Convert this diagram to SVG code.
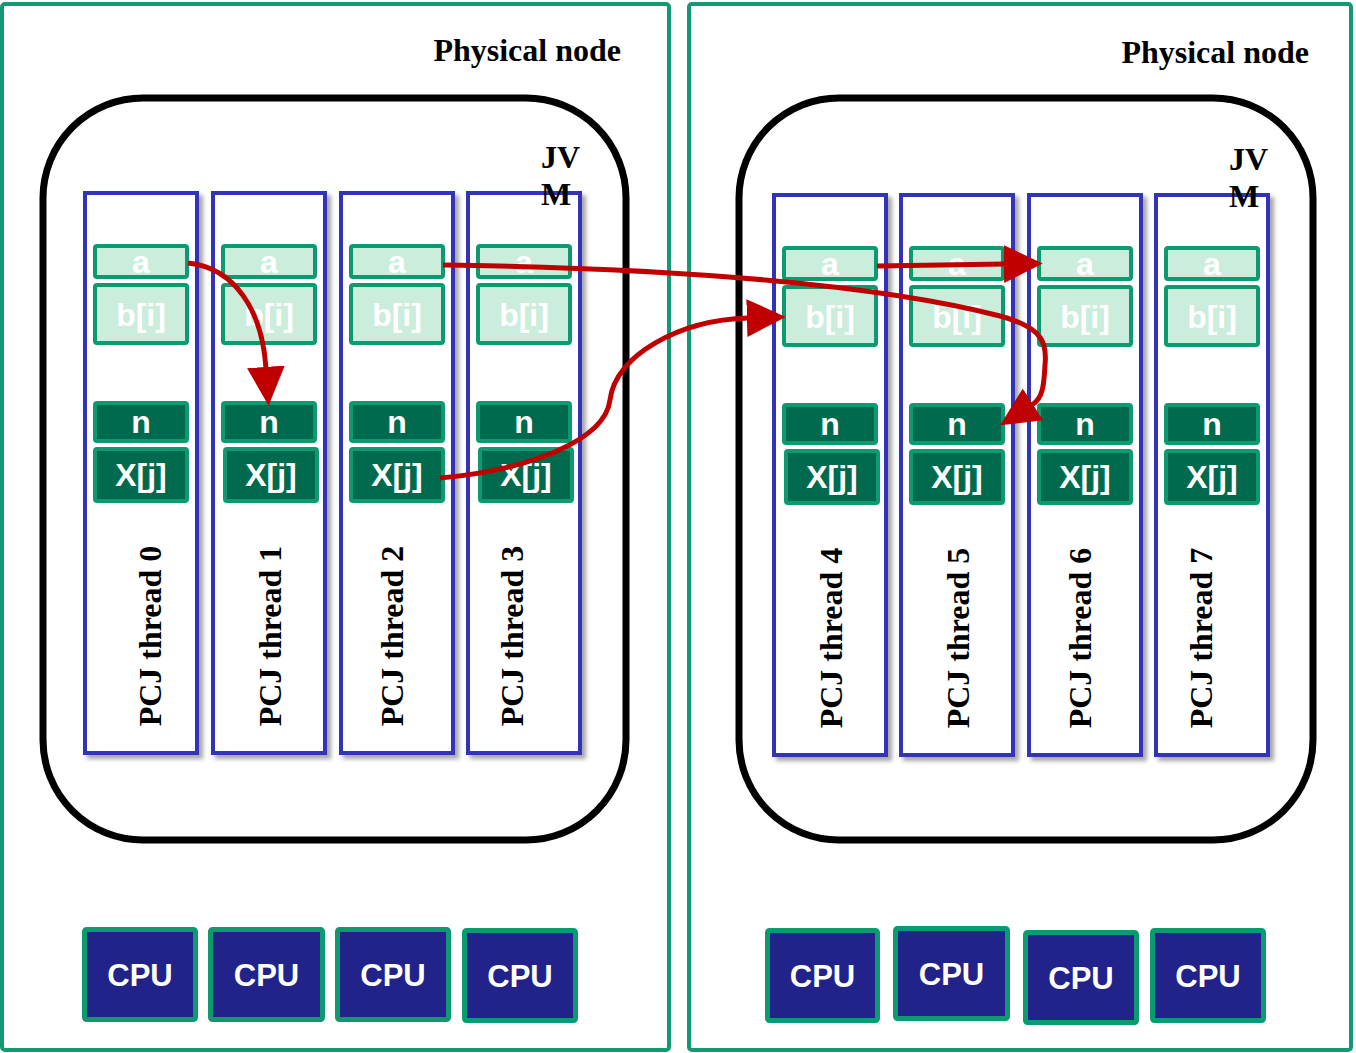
<svg xmlns="http://www.w3.org/2000/svg" width="1356" height="1053" viewBox="0 0 1356 1053">
  <defs>
    <filter id="colShadow" x="-10%" y="-5%" width="125%" height="115%">
      <feDropShadow dx="4" dy="4" stdDeviation="2" flood-color="#000" flood-opacity="0.35"/>
    </filter>
    <marker id="arrowHead" markerUnits="userSpaceOnUse" markerWidth="40" markerHeight="40" viewBox="0 0 36 34" refX="1" refY="17" orient="auto">
      <path d="M0,0 L35,17 L0,34 z" fill="#c00000"/>
    </marker>
    <style>
      .phys { fill: #fff; stroke: #129a74; stroke-width: 4; }
      .jvm { fill: none; stroke: #000; stroke-width: 7; }
      .col { fill: #fff; stroke: #3333bb; stroke-width: 4; filter: url(#colShadow); }
      .lite { fill: #cbeddc; stroke: #0e9a70; stroke-width: 4; }
      .dark { fill: #006a4e; stroke: #0e9a70; stroke-width: 4; }
      .cpu { fill: #22228b; stroke: #0e9a70; stroke-width: 5; }
      .var { font-family: "Liberation Sans", Arial, sans-serif; font-weight: bold; font-size: 32px; fill: #fff; text-anchor: middle; }
      .cpuTxt { font-family: "Liberation Sans", Arial, sans-serif; font-weight: bold; font-size: 31px; fill: #fff; text-anchor: middle; }
      .serif { font-family: "Liberation Serif", "Times New Roman", serif; font-weight: bold; font-size: 32px; fill: #000; }
      .thr { text-anchor: middle; }
      .link { fill: none; stroke: #c00000; stroke-width: 5; }
    </style>
  </defs>

  <rect width="1356" height="1053" fill="#fff"/>

  <!-- physical nodes -->
  <g id="node-phys-left">
    <rect class="phys" x="2" y="4" width="667" height="1046" rx="3"/>
    <text class="serif" x="621" y="61" text-anchor="end">Physical node</text>
  </g>
  <g id="node-phys-right">
    <rect class="phys" x="689" y="4" width="662" height="1046" rx="3"/>
    <text class="serif" x="1309" y="63" text-anchor="end">Physical node</text>
  </g>

  <!-- JVMs -->
  <g id="node-jvm-left">
    <rect class="jvm" x="43" y="98" width="583" height="742" rx="100"/>
  </g>
  <g id="node-jvm-right">
    <rect class="jvm" x="739" y="98" width="574" height="742" rx="100"/>
  </g>

  <!-- PCJ threads, left JVM -->
  <g id="node-thread0">
    <rect class="col" x="85" y="193" width="112" height="560"/>
    <text class="serif thr" transform="translate(161,636) rotate(-90)">PCJ thread 0</text>
  </g>
  <g id="node-thread1">
    <rect class="col" x="213" y="193" width="112" height="560"/>
    <text class="serif thr" transform="translate(281,636) rotate(-90)">PCJ thread 1</text>
  </g>
  <g id="node-thread2">
    <rect class="col" x="341" y="193" width="112" height="560"/>
    <text class="serif thr" transform="translate(403,636) rotate(-90)">PCJ thread 2</text>
  </g>
  <g id="node-thread3">
    <rect class="col" x="468" y="193" width="112" height="560"/>
    <text class="serif thr" transform="translate(523,636) rotate(-90)">PCJ thread 3</text>
  </g>

  <!-- PCJ threads, right JVM -->
  <g id="node-thread4">
    <rect class="col" x="774" y="195" width="112" height="560"/>
    <text class="serif thr" transform="translate(842,638) rotate(-90)">PCJ thread 4</text>
  </g>
  <g id="node-thread5">
    <rect class="col" x="901" y="195" width="112" height="560"/>
    <text class="serif thr" transform="translate(969,638) rotate(-90)">PCJ thread 5</text>
  </g>
  <g id="node-thread6">
    <rect class="col" x="1029" y="195" width="112" height="560"/>
    <text class="serif thr" transform="translate(1091,638) rotate(-90)">PCJ thread 6</text>
  </g>
  <g id="node-thread7">
    <rect class="col" x="1156" y="195" width="112" height="560"/>
    <text class="serif thr" transform="translate(1212,638) rotate(-90)">PCJ thread 7</text>
  </g>

  <!-- JVM labels -->
  <g id="label-jvm-left">
    <text class="serif" x="541" y="168">JV</text>
    <text class="serif" x="541" y="205">M</text>
  </g>
  <g id="label-jvm-right">
    <text class="serif" x="1229" y="170">JV</text>
    <text class="serif" x="1229" y="207">M</text>
  </g>

  <!-- shared variables of each thread -->
  <g id="node-vars0">
    <rect class="lite" x="95" y="246" width="92" height="31" rx="2"/><text class="var" x="141" y="273">a</text>
    <rect class="lite" x="95" y="285" width="92" height="58" rx="2"/><text class="var" x="141" y="326">b[i]</text>
    <rect class="dark" x="95" y="403" width="92" height="38" rx="2"/><text class="var" x="141" y="433">n</text>
    <rect class="dark" x="95" y="449" width="92" height="52" rx="2"/><text class="var" x="141" y="486">X[j]</text>
  </g>
  <g id="node-vars1">
    <rect class="lite" x="223" y="246" width="92" height="31" rx="2"/><text class="var" x="269" y="273">a</text>
    <rect class="lite" x="223" y="285" width="92" height="58" rx="2"/><text class="var" x="269" y="326">b[i]</text>
    <rect class="dark" x="223" y="403" width="92" height="38" rx="2"/><text class="var" x="269" y="433">n</text>
    <rect class="dark" x="225" y="449" width="92" height="52" rx="2"/><text class="var" x="271" y="486">X[j]</text>
  </g>
  <g id="node-vars2">
    <rect class="lite" x="351" y="246" width="92" height="31" rx="2"/><text class="var" x="397" y="273">a</text>
    <rect class="lite" x="351" y="285" width="92" height="58" rx="2"/><text class="var" x="397" y="326">b[i]</text>
    <rect class="dark" x="351" y="403" width="92" height="38" rx="2"/><text class="var" x="397" y="433">n</text>
    <rect class="dark" x="351" y="449" width="92" height="52" rx="2"/><text class="var" x="397" y="486">X[j]</text>
  </g>
  <g id="node-vars3">
    <rect class="lite" x="478" y="246" width="92" height="31" rx="2"/><text class="var" x="524" y="273">a</text>
    <rect class="lite" x="478" y="285" width="92" height="58" rx="2"/><text class="var" x="524" y="326">b[i]</text>
    <rect class="dark" x="478" y="403" width="92" height="38" rx="2"/><text class="var" x="524" y="433">n</text>
    <rect class="dark" x="480" y="449" width="92" height="52" rx="2"/><text class="var" x="526" y="486">X[j]</text>
  </g>
  <g id="node-vars4">
    <rect class="lite" x="784" y="248" width="92" height="31" rx="2"/><text class="var" x="830" y="275">a</text>
    <rect class="lite" x="784" y="287" width="92" height="58" rx="2"/><text class="var" x="830" y="328">b[i]</text>
    <rect class="dark" x="784" y="405" width="92" height="38" rx="2"/><text class="var" x="830" y="435">n</text>
    <rect class="dark" x="786" y="451" width="92" height="52" rx="2"/><text class="var" x="832" y="488">X[j]</text>
  </g>
  <g id="node-vars5">
    <rect class="lite" x="911" y="248" width="92" height="31" rx="2"/><text class="var" x="957" y="275">a</text>
    <rect class="lite" x="911" y="287" width="92" height="58" rx="2"/><text class="var" x="957" y="328">b[i]</text>
    <rect class="dark" x="911" y="405" width="92" height="38" rx="2"/><text class="var" x="957" y="435">n</text>
    <rect class="dark" x="911" y="451" width="92" height="52" rx="2"/><text class="var" x="957" y="488">X[j]</text>
  </g>
  <g id="node-vars6">
    <rect class="lite" x="1039" y="248" width="92" height="31" rx="2"/><text class="var" x="1085" y="275">a</text>
    <rect class="lite" x="1039" y="287" width="92" height="58" rx="2"/><text class="var" x="1085" y="328">b[i]</text>
    <rect class="dark" x="1039" y="405" width="92" height="38" rx="2"/><text class="var" x="1085" y="435">n</text>
    <rect class="dark" x="1039" y="451" width="92" height="52" rx="2"/><text class="var" x="1085" y="488">X[j]</text>
  </g>
  <g id="node-vars7">
    <rect class="lite" x="1166" y="248" width="92" height="31" rx="2"/><text class="var" x="1212" y="275">a</text>
    <rect class="lite" x="1166" y="287" width="92" height="58" rx="2"/><text class="var" x="1212" y="328">b[i]</text>
    <rect class="dark" x="1166" y="405" width="92" height="38" rx="2"/><text class="var" x="1212" y="435">n</text>
    <rect class="dark" x="1166" y="451" width="92" height="52" rx="2"/><text class="var" x="1212" y="488">X[j]</text>
  </g>

  <!-- CPUs -->
  <g id="node-cpus-left">
    <rect class="cpu" x="84.5" y="929.5" width="111" height="90" rx="2"/><text class="cpuTxt" x="140" y="986">CPU</text>
    <rect class="cpu" x="210.5" y="929.5" width="112" height="90" rx="2"/><text class="cpuTxt" x="266.5" y="986">CPU</text>
    <rect class="cpu" x="337.5" y="929.5" width="111" height="90" rx="2"/><text class="cpuTxt" x="393" y="986">CPU</text>
    <rect class="cpu" x="464.5" y="930.5" width="111" height="90" rx="2"/><text class="cpuTxt" x="520" y="987">CPU</text>
  </g>
  <g id="node-cpus-right">
    <rect class="cpu" x="767.5" y="930.5" width="110" height="90" rx="2"/><text class="cpuTxt" x="822.5" y="987">CPU</text>
    <rect class="cpu" x="895.5" y="928.5" width="112" height="90" rx="2"/><text class="cpuTxt" x="951.5" y="985">CPU</text>
    <rect class="cpu" x="1025.5" y="932.5" width="111" height="90" rx="2"/><text class="cpuTxt" x="1081" y="989">CPU</text>
    <rect class="cpu" x="1152.5" y="930.5" width="111" height="90" rx="2"/><text class="cpuTxt" x="1208" y="987">CPU</text>
  </g>

  <!-- one-sided accesses between threads -->
  <g id="connectors">
    <path class="link" marker-end="url(#arrowHead)" d="M188,263 C235,268 262,310 266,368"/>
    <path class="link" marker-end="url(#arrowHead)" d="M443,265 C680,268 880,285 1000,316 C1045,328 1047,345 1045,365 C1044,385 1043,398 1032,405"/>
    <path class="link" marker-end="url(#arrowHead)" d="M440,478 C530,470 605,440 610,400 C615,355 680,320 748,318"/>
    <path class="link" marker-end="url(#arrowHead)" d="M877,266 L1005,264"/>
  </g>
</svg>
